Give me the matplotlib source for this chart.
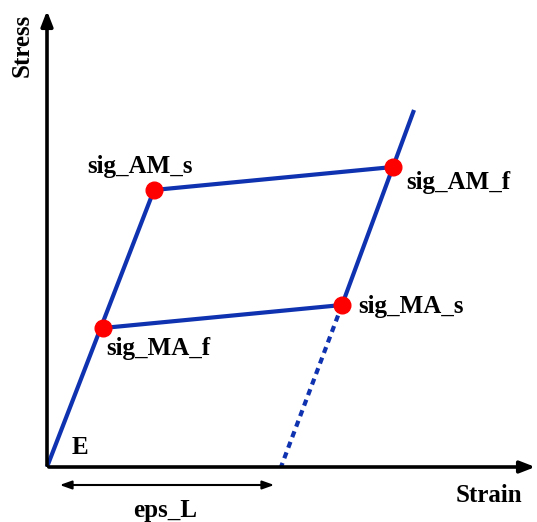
import matplotlib.pyplot as plt

# key points of the superelastic loop (strain, stress) in drawing units
origin = (0, 0)
sig_MA_f = (56, 139)
sig_AM_s = (107, 277)
sig_AM_f = (346, 300)
sig_MA_s = (295, 162)
upper_end = (367, 357)
unload_end = (234, 0)
eps_L = (10, 230)

point_names = ['sig_AM_s', 'sig_AM_f', 'sig_MA_s', 'sig_MA_f']
point_values = [sig_AM_s, sig_AM_f, sig_MA_s, sig_MA_f]
label_pos = [(40, 300), (359, 285), (311, 160), (59, 119)]

blue = '#0f32b0'
font = dict(family='Liberation Serif', weight='bold', fontsize=18)

fig = plt.figure(figsize=(5.37, 5.22), dpi=100)
ax = fig.add_axes([0, 0, 1, 1])
ax.set_xlim(-47, 490)
ax.set_ylim(-55, 467)
ax.axis('off')

# axes arrows
ax.annotate('', xy=(0, 459), xytext=(0, -1), annotation_clip=False,
            arrowprops=dict(arrowstyle='-|>,head_length=0.9,head_width=0.35', color='black', lw=2.6))
ax.annotate('', xy=(491, 0), xytext=(-1, 0), annotation_clip=False,
            arrowprops=dict(arrowstyle='-|>,head_length=0.9,head_width=0.35', color='black', lw=2.6))

# loading / unloading branches
ax.plot([origin[0], sig_AM_s[0]], [origin[1], sig_AM_s[1]], color=blue, lw=3, solid_capstyle='butt')
ax.plot([sig_AM_s[0], sig_AM_f[0]], [sig_AM_s[1], sig_AM_f[1]], color=blue, lw=3)
ax.plot([sig_MA_s[0], upper_end[0]], [sig_MA_s[1], upper_end[1]], color=blue, lw=3, solid_capstyle='butt')
ax.plot([sig_MA_f[0], sig_MA_s[0]], [sig_MA_f[1], sig_MA_s[1]], color=blue, lw=3)
ax.plot([sig_MA_s[0], unload_end[0]], [sig_MA_s[1], unload_end[1]], color=blue, lw=3,
        linestyle=(0, (1.5, 1.2)))

xs = [p[0] for p in point_values]
ys = [p[1] for p in point_values]
ax.plot(xs, ys, 'o', color='#ff0000', markersize=12, zorder=5)

for name, (lx, ly) in zip(point_names, label_pos):
    ax.text(lx, ly, name, ha='left', va='center', **font)

ax.text(25, 20, 'E', ha='left', va='center', **font)

# eps_L double arrow
ax.annotate('', xy=(eps_L[0], -18), xytext=(eps_L[1], -18),
            arrowprops=dict(arrowstyle='<|-|>,head_length=0.7,head_width=0.25', color='black', lw=1.5))
ax.text(118, -43, 'eps_L', ha='center', va='center', **font)

ax.text(475, -28, 'Strain', ha='right', va='center', **font)
ax.text(-25, 422, 'Stress', ha='center', va='center', rotation=90, **font)

fig.savefig('out.png', dpi=100)
